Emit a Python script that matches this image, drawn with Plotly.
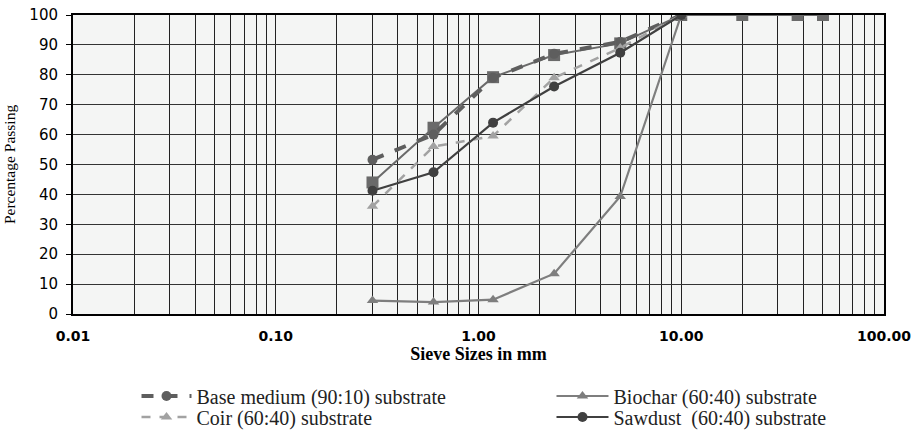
import plotly.graph_objects as go

sieve = [0.3, 0.6, 1.18, 2.36, 5, 10]
sieve_ext = [0.3, 0.6, 1.18, 2.36, 5, 10, 20, 37.5, 50]

base_medium = [51.6, 60, 79, 87, 91, 100]
coir = [36, 56, 59.5, 79, 89, 100]
biochar = [4.5, 4, 4.8, 13.5, 39.3, 100]
sawdust = [41.2, 47.4, 64, 76.1, 87.4, 100]
reference = [44, 62.3, 79.2, 86.6, 90.5, 100, 100, 100, 100]

x_tick_vals = [0.01, 0.1, 1, 10, 100]
x_tick_text = ["0.01", "0.10", "1.00", "10.00", "100.00"]

# gridline positions (1..9 per decade)
grid_vals = [m * d for d in [0.01, 0.1, 1, 10] for m in range(1, 10)] + [100]
grid_text = []
for v in grid_vals:
    lab = ""
    for t, s in zip(x_tick_vals, x_tick_text):
        if abs(v - t) < 1e-9:
            lab = "<b>" + s + "</b>"
    grid_text.append(lab)

fig = go.Figure()

fig.add_trace(go.Scatter(
    x=sieve_ext, y=reference, mode="lines+markers", showlegend=False,
    line=dict(color="#6a6a6a", width=2),
    marker=dict(symbol="square", size=12, color="#6a6a6a"),
))
fig.add_trace(go.Scatter(
    x=sieve, y=base_medium, mode="lines+markers", name="Base medium (90:10) substrate",
    line=dict(color="#5e5e5e", width=4, dash="dash"),
    marker=dict(symbol="circle", size=10, color="#5e5e5e"),
    legend="legend",
))
fig.add_trace(go.Scatter(
    x=sieve, y=biochar, mode="lines+markers", name="Biochar (60:40) substrate",
    line=dict(color="#7e7e7e", width=2.2),
    marker=dict(symbol="triangle-up", size=10, color="#7e7e7e"),
    legend="legend2",
))
fig.add_trace(go.Scatter(
    x=sieve, y=coir, mode="lines+markers", name="Coir (60:40) substrate",
    line=dict(color="#a2a2a2", width=2.5, dash="dash"),
    marker=dict(symbol="triangle-up", size=10, color="#a2a2a2"),
    legend="legend3",
))
fig.add_trace(go.Scatter(
    x=sieve, y=sawdust, mode="lines+markers", name="Sawdust  (60:40) substrate",
    line=dict(color="#404040", width=2.2),
    marker=dict(symbol="circle", size=10, color="#404040"),
    legend="legend4",
))

legend_font = dict(family="Liberation Serif, Times New Roman, serif", size=20, color="#222")


def leg(xp, yp, iw):
    return dict(
        orientation="v", x=xp, y=yp, xanchor="left", yanchor="middle",
        font=legend_font, itemwidth=iw, tracegroupgap=0, bgcolor="rgba(0,0,0,0)",
    )


fig.update_layout(
    width=920, height=431,
    margin=dict(l=73, r=36, t=15, b=117, autoexpand=False),
    paper_bgcolor="white",
    plot_bgcolor="#f4f5f4",
    legend=leg(0.0783, -0.2742, 50),
    legend3=leg(0.0783, -0.3445, 50),
    legend2=leg(0.590, -0.2742, 52),
    legend4=leg(0.590, -0.3445, 52),
)

fig.update_xaxes(
    type="log", range=[-2, 2],
    tickvals=grid_vals, ticktext=grid_text,
    tickfont=dict(family="DejaVu Sans, Arial, sans-serif", size=14, color="black"),
    showgrid=True, gridcolor="#222", gridwidth=1,
    showline=True, linecolor="black", linewidth=2, mirror=True,
    ticks="", ticklabelstandoff=8, ticklabeloverflow="allow",
    zeroline=False, automargin=False,
    title=dict(text="<b>Sieve Sizes in mm</b>",
               font=dict(family="Liberation Serif, Times New Roman, serif", size=18, color="black"),
               standoff=0),
)
fig.update_yaxes(
    range=[0, 100], dtick=10,
    tickfont=dict(family="DejaVu Sans, Arial, sans-serif", size=15, color="black"),
    showgrid=True, gridcolor="#333", gridwidth=1,
    showline=True, linecolor="black", linewidth=2, mirror=True,
    ticks="outside", ticklen=5, tickcolor="black", ticklabelstandoff=5,
    ticklabeloverflow="allow",
    zeroline=False, automargin=False,
    title=dict(text="Percentage Passing",
               font=dict(family="Liberation Serif, Times New Roman, serif", size=15.5, color="black"),
               standoff=10),
)

fig.write_html("out.html", config={"displayModeBar": False},
               post_script="document.body.style.margin='0';")
